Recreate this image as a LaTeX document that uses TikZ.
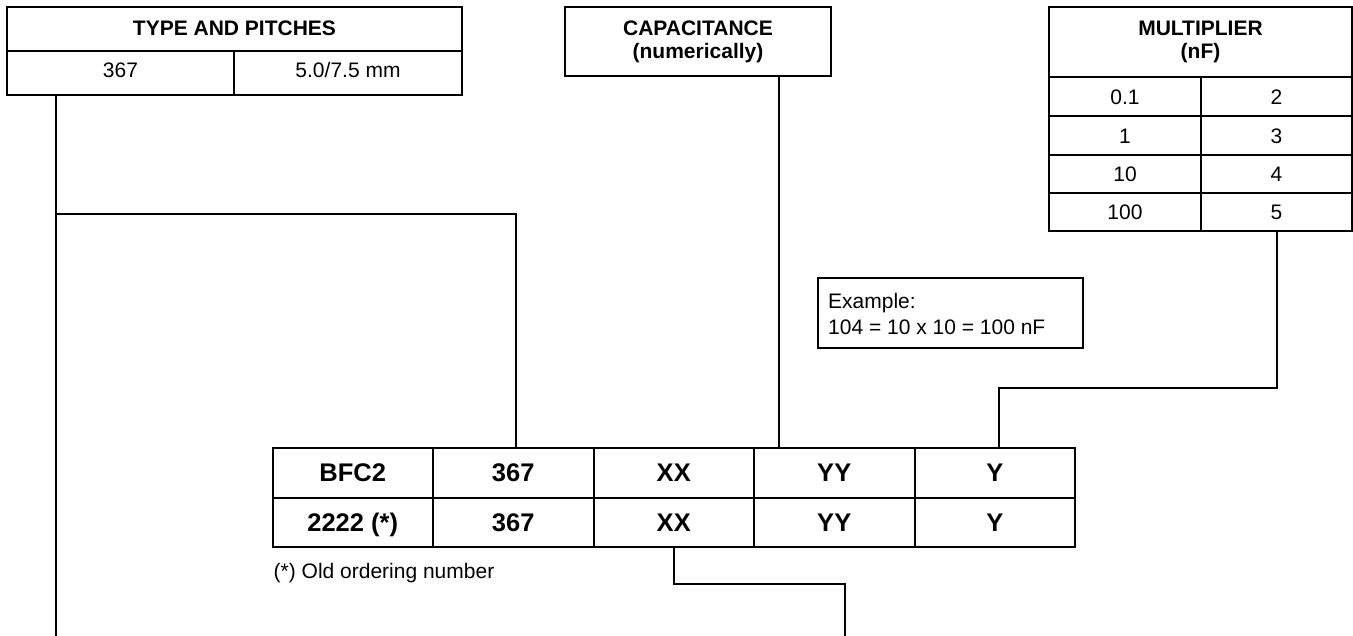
\documentclass[tikz,border=0pt]{standalone}
\usepackage{fontspec}
\setmainfont{Liberation Sans}
\usetikzlibrary{calc}
\begin{document}
\begin{tikzpicture}[x=1pt,y=-1pt,
  frame/.style={draw, line width=2pt, inner sep=0pt, outer sep=0pt},
  conn/.style={draw, line width=2pt},
  hd/.style={font=\fontsize{21}{25}\bfseries\selectfont, inner sep=0pt, anchor=base},
  rg/.style={font=\fontsize{21}{25}\selectfont, inner sep=0pt},
  big/.style={font=\fontsize{25.5}{30}\bfseries\selectfont, inner sep=0pt, text height=18pt, text depth=0pt},
  mrow/.style={frame, rg, minimum height=39pt, text height=15pt, text depth=0pt},
  bcell/.style={frame, big, minimum width=160.5pt}
]
\useasboundingbox (0,0) rectangle (1353,635);

% TYPE AND PITCHES table
\node[frame, minimum width=455pt, minimum height=44pt] (tpHead) at (234.5,29) {};
\node[hd] (tpHeadT) at (234.5,35.5) {TYPE AND PITCHES};
\node[frame, rg, minimum width=227pt, minimum height=44pt, text height=15pt, text depth=7pt] (tp1) at (120.5,73) {367};
\node[frame, rg, minimum width=228pt, minimum height=44pt, text height=15pt, text depth=7pt] (tp2) at (348,73) {5.0/7.5 mm};

% CAPACITANCE box
\node[frame, minimum width=266pt, minimum height=69pt] (cap) at (698,41.5) {};
\node[hd] (capT1) at (698,35.5) {CAPACITANCE};
\node[hd] (capT2) at (698,58.5) {(numerically)};

% MULTIPLIER table
\node[frame, minimum width=303pt, minimum height=70pt] (mHead) at (1200.5,42) {};
\node[hd] (mT1) at (1200.5,35.5) {MULTIPLIER};
\node[hd] (mT2) at (1200.5,58.5) {(nF)};
\node[mrow, minimum width=152pt] (m1) at (1125,96.5) {0.1};
\node[mrow, minimum width=151pt] (m2) at (1276.5,96.5) {2};
\node[mrow, minimum width=152pt] (m3) at (1125,135.5) {1};
\node[mrow, minimum width=151pt] (m4) at (1276.5,135.5) {3};
\node[mrow, minimum width=152pt, minimum height=38pt] (m5) at (1125,174) {10};
\node[mrow, minimum width=151pt, minimum height=38pt] (m6) at (1276.5,174) {4};
\node[mrow, minimum width=152pt, minimum height=38pt] (m7) at (1125,212) {100};
\node[mrow, minimum width=151pt, minimum height=38pt] (m8) at (1276.5,212) {5};

% Example box
\node[frame, minimum width=265.6pt, minimum height=70.6pt] (ex) at (950.5,313) {};
\node[rg, anchor=base west] (exT1) at (828,308.3) {Example:};
\node[rg, anchor=base west] (exT2) at (828,334) {104 = 10 x 10 = 100 nF};

% Bottom table
\node[bcell, minimum height=50pt] (b1) at (352.75,472.5) {BFC2};
\node[bcell, minimum height=50pt] (b2) at (513.25,472.5) {367};
\node[bcell, minimum height=50pt] (b3) at (673.75,472.5) {XX};
\node[bcell, minimum height=50pt] (b4) at (834.25,472.5) {YY};
\node[bcell, minimum height=50pt] (b5) at (994.75,472.5) {Y};
\node[bcell, minimum height=49.5pt] (b6) at (352.75,522.25) {2222 (*)};
\node[bcell, minimum height=49.5pt] (b7) at (513.25,522.25) {367};
\node[bcell, minimum height=49.5pt] (b8) at (673.75,522.25) {XX};
\node[bcell, minimum height=49.5pt] (b9) at (834.25,522.25) {YY};
\node[bcell, minimum height=49.5pt] (b10) at (994.75,522.25) {Y};
\node[rg, anchor=base west] (note) at (273.5,578) {(*) Old ordering number};

% connectors
\coordinate (tpBend) at (56,214);
\coordinate (tpEnd) at (56,636);
\draw[conn] (tp1.south -| tpBend) -- (tpEnd);
\draw[conn] (tpBend) -| ($(b2.north)+(2.75,0)$);

\coordinate (capX) at (779,0);
\draw[conn] (cap.south -| capX) -- (b4.north -| capX);

\coordinate (mBend) at (999,388);
\draw[conn] (m8.south) |- (mBend) -- (mBend |- b5.north);

\coordinate (xxBend) at (844.5,584);
\coordinate (xxEnd) at (844.5,636);
\draw[conn] (b8.south) |- (xxBend) -- (xxEnd);
\end{tikzpicture}
\end{document}
